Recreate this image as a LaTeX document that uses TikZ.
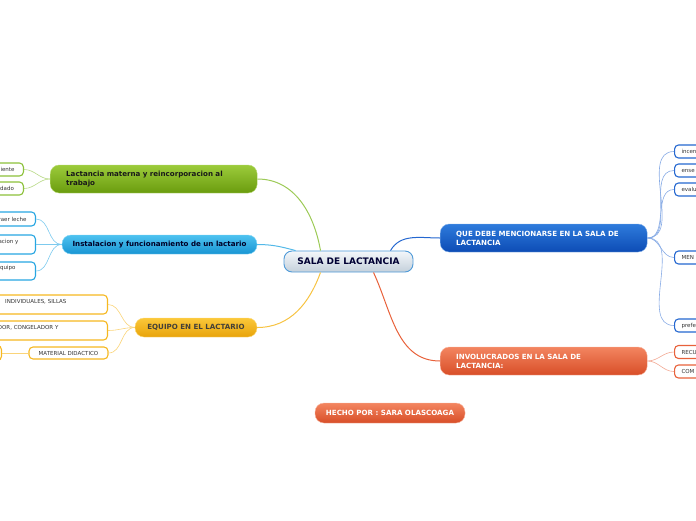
\documentclass[tikz,border=0pt]{standalone}
\usepackage{fontspec}
\setmainfont{DejaVu Sans}
\usepackage{xcolor}
\usetikzlibrary{positioning}
\definecolor{grntop}{HTML}{9CCB3B}
\definecolor{grnbot}{HTML}{6A9C0E}
\definecolor{grnline}{HTML}{8CC13A}
\definecolor{skytop}{HTML}{4EC2F0}
\definecolor{skybot}{HTML}{1895D3}
\definecolor{skyline}{HTML}{27A6E2}
\definecolor{yeltop}{HTML}{FBC83A}
\definecolor{yelbot}{HTML}{E8A30A}
\definecolor{yelline}{HTML}{F6B820}
\definecolor{dbltop}{HTML}{2E7BDC}
\definecolor{dblbot}{HTML}{0D4CB5}
\definecolor{dblline}{HTML}{2467D0}
\definecolor{orgtop}{HTML}{F38560}
\definecolor{orgbot}{HTML}{D84E28}
\definecolor{orgline}{HTML}{E8613A}
\definecolor{ctrtop}{HTML}{F4F7FA}
\definecolor{ctrbot}{HTML}{C4D0DB}
\definecolor{ctrline}{HTML}{4F9AD8}
\definecolor{subtext}{HTML}{333333}

\tikzset{
  topic/.style={rounded corners=9pt,inner ysep=0pt,font=\fontsize{7.1}{9}\selectfont\bfseries},
  sub/.style={draw,fill=white,rounded corners=4pt,line width=1.1pt,
    font=\fontsize{5.5}{6.5}\selectfont,text=subtext,inner xsep=7pt,inner ysep=0pt},
  subleft/.style={sub,anchor=east,text width=130,align=right,inner xsep=0pt},
  subright/.style={sub,anchor=west,text width=60,align=left,minimum height=13},
  link/.style={line width=.6pt},
}

\begin{document}
\begin{tikzpicture}[x=1pt,y=-1pt]
  \useasboundingbox (0,0) rectangle (696,520);
  \clip (0,0) rectangle (696,520);

  % main topics
  \node[topic,top color=grntop,bottom color=grnbot,draw=grntop!70!white,anchor=west,
        text width=175,align=left,inner xsep=16pt,minimum height=28,text=black!90]
        (leche) at (50,179) {Lactancia materna y reincorporacion al\\trabajo};
  \node[topic,top color=skytop,bottom color=skybot,draw=skytop!70!white,
        minimum width=195,minimum height=19,text={black!85!blue}]
        (inst) at (159.5,244.5) {Instalacion y funcionamiento de un lactario};
  \node[topic,top color=yeltop,bottom color=yelbot,draw=yeltop!70!white,
        minimum width=122,minimum height=19,text={black!85!yellow}]
        (equipo) at (196,327.5) {EQUIPO EN EL LACTARIO};
  \node[topic,top color=dbltop,bottom color=dblbot,draw=dbltop!60!white,anchor=west,
        text width=175,align=left,inner xsep=16pt,minimum height=28,text=white]
        (debe) at (440,238) {QUE DEBE MENCIONARSE EN LA SALA DE\\LACTANCIA};
  \node[topic,top color=orgtop,bottom color=orgbot,draw=orgtop!60!white,anchor=west,
        text width=175,align=left,inner xsep=16pt,minimum height=28,text=white]
        (invol) at (440,361) {INVOLUCRADOS EN LA SALA DE\\LACTANCIA:};
  \node[topic,top color=orgtop,bottom color=orgbot,draw=orgtop!60!white,
        minimum width=150,minimum height=20,text=white]
        (hecho) at (390,413) {HECHO POR : SARA OLASCOAGA};

  % central topic
  \node[draw=ctrline,line width=.9pt,top color=ctrtop,bottom color=ctrbot,rounded corners=8pt,
        minimum width=129,minimum height=21,text={black!80!blue},
        font=\fontsize{9}{10}\selectfont\bfseries] (sala) at (348.5,261.5) {SALA DE LACTANCIA};

  % main links
  \draw[grnline!85!white,line width=1pt] (leche.east) to[out=0,in=100] ([xshift=-28]sala.north);
  \draw[skyline!80!white,line width=1pt] (inst.east) to[out=0,in=165] ([xshift=12]sala.north west);
  \draw[yelline!85!white,line width=1pt] (equipo.east) to[out=0,in=-110] ([xshift=-28]sala.south);
  \draw[dblline,line width=1pt] ([xshift=42]sala.north) to[out=60,in=180] (debe.west);
  \draw[orgline,line width=1pt] ([xshift=25]sala.south) to[out=-65,in=180] (invol.west);

  % left sub topics (cut by the left edge)
  \node[subleft,draw=grnline,minimum height=13] (g1) at (24,169.5) {diente\kern9pt};
  \node[subleft,draw=grnline,minimum height=13] (g2) at (24,188.5) {idado\kern9.5pt};
  \node[subleft,draw=skyline,minimum height=14] (b1) at (36,219) {raer leche\kern9pt};
  \node[subleft,draw=skyline,minimum height=19] (b2) at (36,244.5) {acion y\kern17pt\\\mbox{}};
  \node[subleft,draw=skyline,minimum height=18] (b3) at (36,271) {equipo\kern20pt\\\mbox{}};
  \node[subleft,draw=yelline,minimum height=19] (y1) at (108,304.5) {INDIVIDUALES, SILLAS\kern41pt\\\mbox{}};
  \node[subleft,draw=yelline,minimum height=19] (y2) at (108,330.5) {DOR, CONGELADOR Y\kern49pt\\\mbox{}};
  \node[sub,draw=yelline,minimum width=79,minimum height=12] (y3) at (68.5,353) {MATERIAL DIDACTICO};
  \node[subleft,draw=yelline,minimum height=15,text width=40] (y4) at (2,353) {};

  \foreach \c in {g1,g2}
    \draw[link,grnline!60!white] (leche.west) to[out=180,in=0] (\c.east);
  \foreach \c in {b1,b2,b3}
    \draw[link,skyline!60!white] (inst.west) to[out=180,in=0] (\c.east);
  \foreach \c in {y1,y2,y3}
    \draw[link,yelline!60!white] (equipo.west) to[out=180,in=0] (\c.east);
  \draw[link,yelline!60!white] (y3.west) -- (y4.east);

  % right sub topics (cut by the right edge)
  \foreach \n/\y/\lab in {d1/151.5/incen, d2/170.5/ense, d3/189.5/evalu, d4/257.5/MEN, d5/325.5/prefe}{
    \node[subright,draw=dblline] (\n) at (674,\y) {\lab};
    \draw[link,dblline!55!white] (debe.east) to[out=0,in=180] (\n.west);}
  \foreach \n/\y/\lab in {o1/352/RECU, o2/371.5/COM}{
    \node[subright,draw=orgline] (\n) at (674,\y) {\lab};
    \draw[link,orgline!55!white] (invol.east) to[out=0,in=180] (\n.west);}
\end{tikzpicture}
\end{document}
